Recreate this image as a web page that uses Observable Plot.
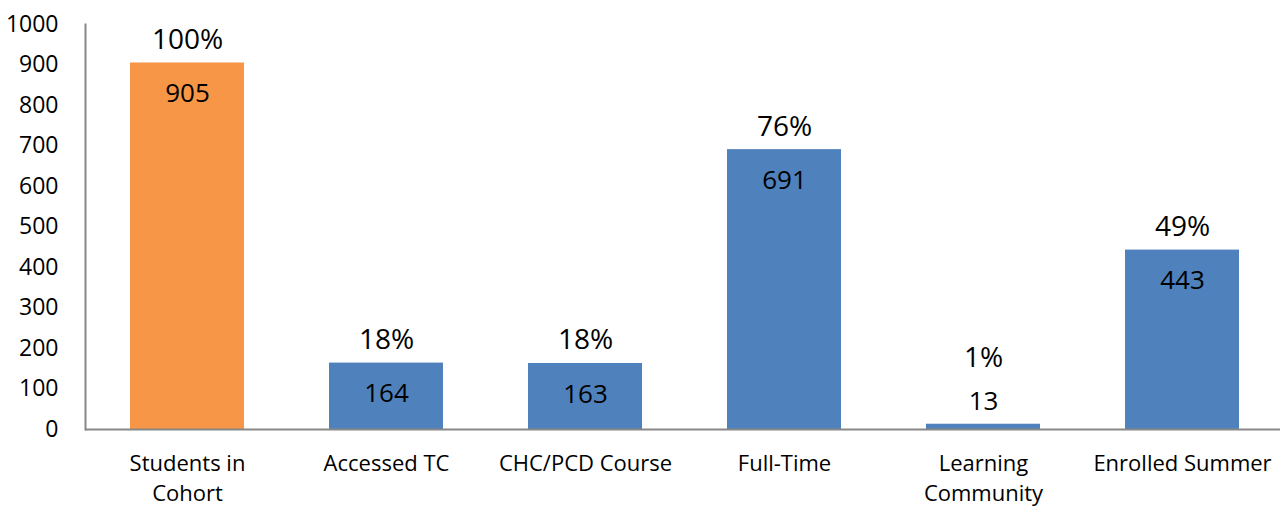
<!DOCTYPE html>
<html>
<head>
<meta charset="utf-8">
<script src="https://cdn.jsdelivr.net/npm/d3@7"></script>
<script src="https://cdn.jsdelivr.net/npm/@observablehq/plot@0.6"></script>
<style>
  html, body { margin: 0; padding: 0; background: #fff; }
  #chart svg { display: block; }
</style>
</head>
<body>
<div id="chart"></div>
<script>
const categories = ["Students in Cohort", "Accessed TC", "CHC/PCD Course", "Full-Time", "Learning Community", "Enrolled Summer"];
const tickLabels = ["Students in\nCohort", "Accessed TC", "CHC/PCD Course", "Full-Time", "Learning\nCommunity", "Enrolled Summer"];
const groups = ["Cohort", "Subset", "Subset", "Subset", "Subset", "Subset"];
const counts = [905, 164, 163, 691, 13, 443];
const percents = ["100%", "18%", "18%", "76%", "1%", "49%"];
const yTicks = [0, 100, 200, 300, 400, 500, 600, 700, 800, 900, 1000];

const data = categories.map((c, i) => ({
  category: c, group: groups[i], count: counts[i], pct: percents[i]
}));
const big = d => d.count >= 100;
const small = d => d.count < 100;

const chart = Plot.plot({
  width: 1280,
  height: 508,
  marginTop: 24,
  marginBottom: 79,
  marginLeft: 85,
  marginRight: 0,
  style: { fontFamily: "'Open Sans', sans-serif", color: "#000", background: "#fff" },
  x: { domain: categories, range: [85, 1284], paddingInner: 0.425, paddingOuter: 0.2125, align: 0.5 },
  y: { domain: [0, 1000] },
  color: { domain: ["Cohort", "Subset"], range: ["#F79646", "#4F81BD"] },
  marks: [
    Plot.barY(data, { x: "category", y: "count", fill: "group" }),
    Plot.ruleY([0], { stroke: "#888888", strokeWidth: 2 }),
    Plot.frame({ anchor: "left", stroke: "#888888", strokeWidth: 2 }),
    Plot.axisY({ ticks: yTicks, tickFormat: d3.format("d"), tickSize: 0, tickPadding: 27, fontSize: 23, label: null, fill: "#000" }),
    Plot.axisX({ tickSize: 0, tickPadding: 20, fontSize: 22, lineHeight: 1.36, label: null, fill: "#000",
      tickFormat: d => tickLabels[categories.indexOf(d)] }),
    Plot.text(data.filter(big), { x: "category", y: "count", text: d => String(d.count), dy: 31, fontSize: 26, fill: "#000" }),
    Plot.text(data.filter(big), { x: "category", y: "count", text: "pct", dy: -23, fontSize: 28, fill: "#000" }),
    Plot.text(data.filter(small), { x: "category", y: "count", text: d => String(d.count), dy: -23, fontSize: 26, fill: "#000" }),
    Plot.text(data.filter(small), { x: "category", y: "count", text: "pct", dy: -66, fontSize: 28, fill: "#000" })
  ]
});
document.getElementById("chart").appendChild(chart);
</script>
</body>
</html>
